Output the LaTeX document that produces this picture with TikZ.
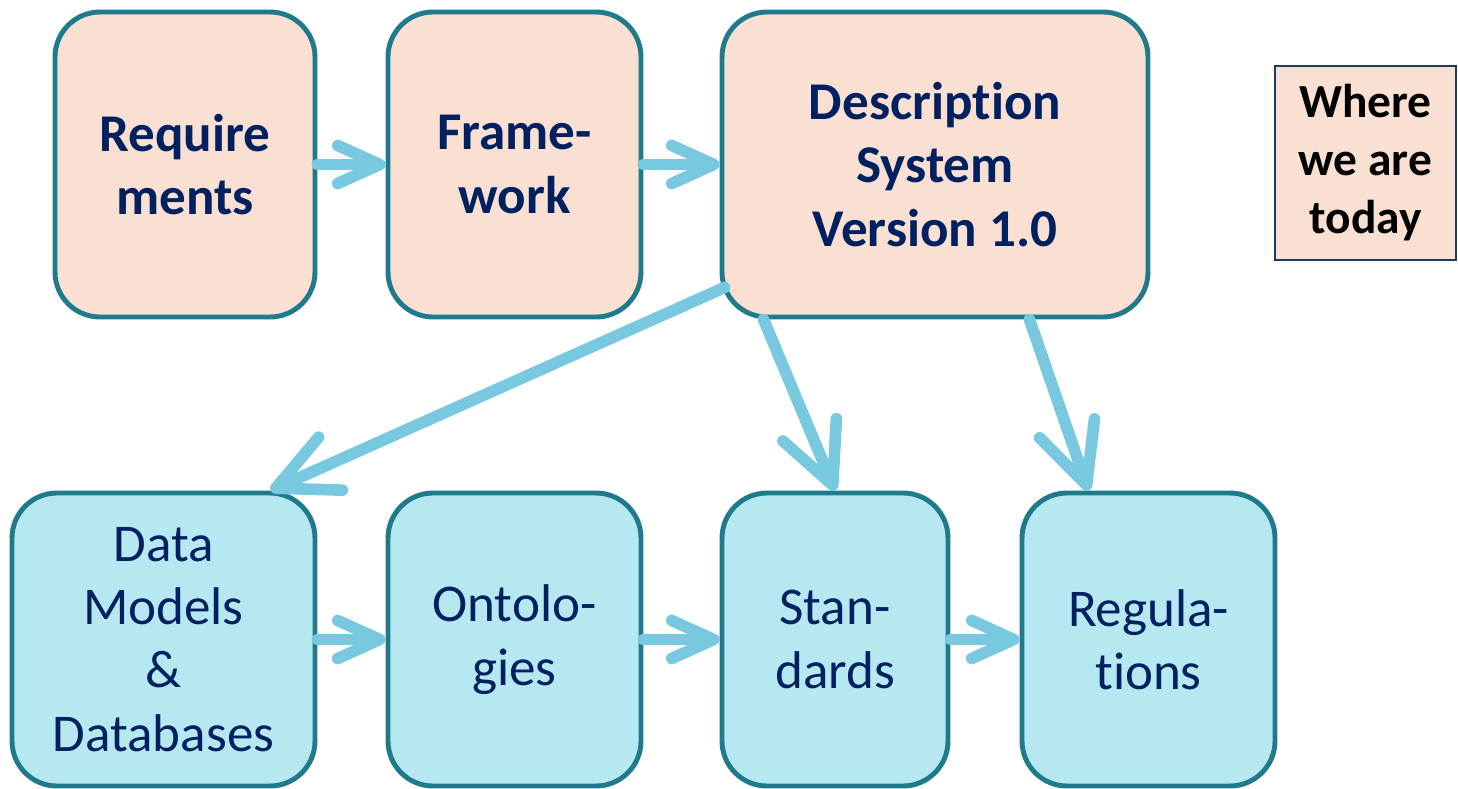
\documentclass[tikz,border=0pt]{standalone}
\usepackage{fontspec}
\setmainfont[Ligatures=NoCommon]{Carlito}
\usetikzlibrary{arrows.meta, positioning}
\definecolor{boxteal}{RGB}{31,122,140}
\definecolor{peach}{RGB}{250,223,211}
\definecolor{paleblue}{RGB}{182,232,242}
\definecolor{arrowblue}{RGB}{120,201,223}
\definecolor{navytext}{RGB}{0,32,96}
\definecolor{framenavy}{RGB}{31,56,100}

\tikzset{
  stage/.style={draw=boxteal, line width=1.4pt, rounded corners=0.45cm, align=center, text=navytext, inner sep=0pt, minimum height=3.05cm},
  done/.style={stage, fill=peach, font=\fontsize{15.1}{18}\selectfont\bfseries},
  todo/.style={stage, fill=paleblue, minimum height=2.93cm, font=\fontsize{15.1}{18}\selectfont},
  flow/.style={draw=arrowblue, line width=3.3pt, line cap=round, -{Straight Barb[length=4.2mm, width=3.8mm, round]}},
  bigflow/.style={flow, -{Straight Barb[length=6mm, width=5.8mm, round]}},
}

\begin{document}
\begin{tikzpicture}
    \useasboundingbox (0,0) rectangle (14.58,-7.88);

		% top row
		\node[done, minimum width=2.60cm] (req) at (1.85,-1.645) {Require\\ments};
		\node[done, minimum width=2.53cm] (frame) at (5.145,-1.645) {Frame-\\work};
		\node[done, minimum width=4.26cm] (desc) at (9.35,-1.645) {Description\\System\\Version 1.0};

		% legend
		\node[draw=framenavy, line width=0.45pt, fill=peach, minimum width=1.81cm, minimum height=1.94cm, align=center, inner sep=0pt, font=\fontsize{13.5}{16.5}\selectfont\bfseries] (where) at (13.655,-1.63) {Where\\we are\\today};

		% bottom row
		\node[todo, minimum width=3.03cm] (data) at (1.635,-6.395) {Data\\Models\\\&\\Databases};
		\node[todo, minimum width=2.53cm] (onto) at (5.145,-6.395) {Ontolo-\\gies};
		\node[todo, minimum width=2.26cm] (stan) at (8.35,-6.395) {Stan-\\dards};
		\node[todo, minimum width=2.53cm] (reg) at (11.485,-6.395) {Regula-\\tions};

		% arrows
		\draw[flow] (req) -- (frame);
		\draw[flow] (frame) -- (desc);
		\draw[flow] (data) -- (onto);
		\draw[flow] (onto) -- (stan);
		\draw[flow] (stan) -- (reg);
		\draw[bigflow] ([xshift=0.05cm, yshift=0.32cm]desc.south west) -- ([xshift=-0.47cm]data.north east);
		\draw[bigflow] ([xshift=0.44cm]desc.south west) -- (stan.north);
		\draw[bigflow] ([xshift=-1.21cm]desc.south east) -- ([xshift=-0.6cm]reg.north);
\end{tikzpicture}
\end{document}
